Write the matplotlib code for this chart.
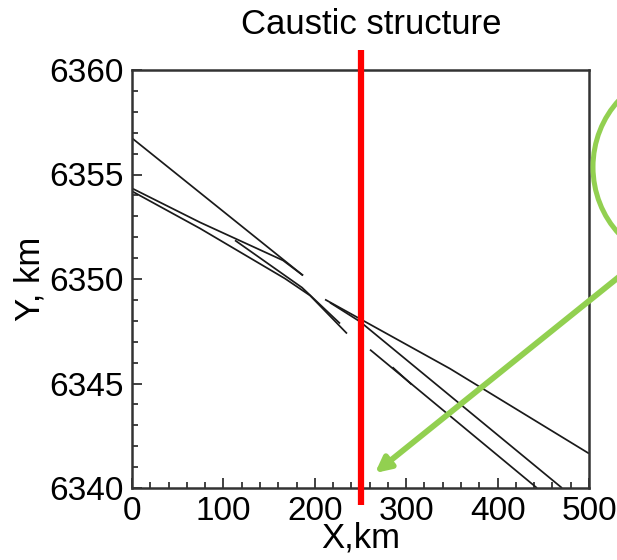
import matplotlib
matplotlib.use("Agg")
import matplotlib.pyplot as plt
from matplotlib.patches import Ellipse
from matplotlib.ticker import MultipleLocator

plt.rcParams['font.family'] = ['Liberation Sans', 'DejaVu Sans']

# wavefront branches (X, km / Y, km)
front_a_x = [0, 187.1]
front_a_y = [6356.74, 6350.17]

front_b1_x = [0, 74.4, 165.2, 187.1]
front_b1_y = [6354.34, 6352.71, 6350.89, 6350.17]

front_b2_x = [0, 74.4, 167.4, 194.8, 235.2]
front_b2_y = [6354.20, 6352.42, 6350.02, 6349.21, 6347.39]

front_s_x = [112.7, 186.0, 227.6]
front_s_y = [6351.85, 6349.59, 6347.87]

front_c_x = [211.2, 347.9, 500.0]
front_c_y = [6349.02, 6345.71, 6341.65]

front_d_x = [216.6, 249.5, 470.5]
front_d_y = [6348.87, 6347.96, 6340.0]

front_e_x = [260.4, 443.1]
front_e_y = [6346.62, 6340.0]

front_e2_x = [285.0, 306.0]
front_e2_y = [6345.78, 6344.95]

section_x = 250  # observation cut

fronts = [
    (front_a_x, front_a_y), (front_b1_x, front_b1_y), (front_b2_x, front_b2_y),
    (front_s_x, front_s_y), (front_c_x, front_c_y), (front_d_x, front_d_y),
    (front_e_x, front_e_y), (front_e2_x, front_e2_y),
]

W, H = 617, 560
fig = plt.figure(figsize=(W / 100, H / 100), dpi=100)
ax = fig.add_axes([132 / W, 1 - 488 / H, 457 / W, 418 / H])

for xs, ys in fronts:
    ax.plot(xs, ys, color='#1a1a1a', lw=1.25, solid_capstyle='butt')

ax.plot([section_x, section_x], [6339.2, 6360.95], color='#ff0000', lw=4.5,
        clip_on=False, zorder=5, solid_capstyle='butt')

ax.set_xlim(0, 500)
ax.set_ylim(6340, 6360)
ax.xaxis.set_major_locator(MultipleLocator(100))
ax.xaxis.set_minor_locator(MultipleLocator(20))
ax.yaxis.set_major_locator(MultipleLocator(5))
ax.yaxis.set_minor_locator(MultipleLocator(1))
ax.tick_params(which='both', direction='in', top=False, right=False,
               colors='#333333', labelcolor='black', width=1.3)
ax.tick_params(which='major', length=7, labelsize=24, pad=6)
ax.tick_params(which='minor', length=4)
for sp in ax.spines.values():
    sp.set_linewidth(1.8)
    sp.set_color('#333333')

ax.set_xlabel('X,km', fontsize=25, labelpad=-4)
ax.set_ylabel('Y, km', fontsize=25, labelpad=2)
fig.text(371 / W, 1 - 25 / H, 'Caustic structure', fontsize=25,
         ha='center', va='center')

# green callout: ellipse edge and arrow pointing at the cut
green = '#92d050'
fig.patches.append(Ellipse((683 / W, 1 - 167 / H), 180 / W, 190 / H,
                           transform=fig.transFigure, fill=False,
                           edgecolor=green, lw=3.6))
ax.annotate('', xy=(375 / W, 1 - 473 / H), xycoords='figure fraction',
            xytext=(625 / W, 1 - 272 / H), textcoords='figure fraction',
            arrowprops=dict(arrowstyle='-|>,head_length=0.9,head_width=0.45',
                            color=green, lw=4.2, shrinkA=0, shrinkB=0),
            annotation_clip=False, zorder=6)

fig.savefig('out.png', dpi=100)
